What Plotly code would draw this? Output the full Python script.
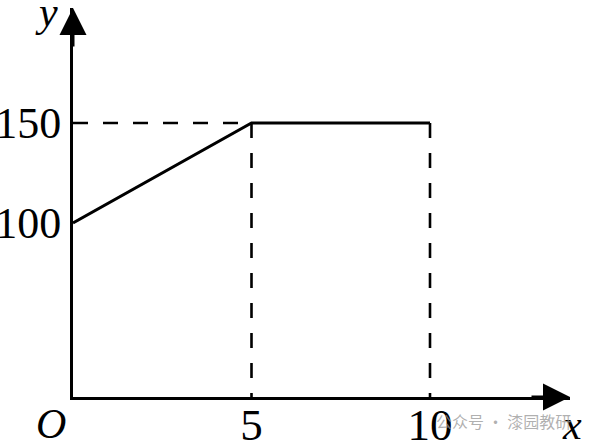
import plotly.graph_objects as go

# data
x_vals = [0, 5, 10]
y_vals = [100, 150, 150]
x_ticks = [5, 10]
x_ticklabels = ["5", "10"]
y_ticks = [100, 150]
y_ticklabels = ["100", "150"]

W, H = 591, 447
ml, mr, mt, mb = 73, 21, 8, 50
px_per_x = 35.7
px_per_y = 2.0
x_max = (W - ml - mr) / px_per_x
y_min = 100 - ((H - mb) - 223) / px_per_y
y_max = 100 + (223 - mt) / px_per_y

serif = "Liberation Serif, Times New Roman, serif"
lw = 2.6

fig = go.Figure()
# dashed guides
fig.add_trace(go.Scatter(x=[0, x_vals[1]], y=[y_vals[1], y_vals[1]], mode="lines",
                         line=dict(color="black", width=lw, dash="15px,15px"), hoverinfo="skip"))
fig.add_trace(go.Scatter(x=[x_vals[1], x_vals[1]], y=[y_vals[1], y_min], mode="lines",
                         line=dict(color="black", width=lw, dash="15px,15px"), hoverinfo="skip"))
fig.add_trace(go.Scatter(x=[x_vals[2], x_vals[2]], y=[y_vals[2], y_min], mode="lines",
                         line=dict(color="black", width=lw, dash="15px,15px"), hoverinfo="skip"))
# main polyline
fig.add_trace(go.Scatter(x=x_vals, y=y_vals, mode="lines",
                         line=dict(color="black", width=3), hoverinfo="skip"))

fig.update_layout(
    width=W, height=H,
    margin=dict(l=ml, r=mr, t=mt, b=mb, pad=0, autoexpand=False),
    paper_bgcolor="white", plot_bgcolor="white",
    showlegend=False,
    xaxis=dict(range=[0, x_max], showgrid=False, zeroline=False, showline=True,
               linecolor="black", linewidth=3, tickvals=x_ticks, ticktext=x_ticklabels,
               ticks="", ticklen=0, ticklabelstandoff=-14,
               tickfont=dict(family=serif, size=45, color="black"),
               automargin=False, fixedrange=True),
    yaxis=dict(range=[y_min, y_max], showgrid=False, zeroline=False, showline=True,
               linecolor="black", linewidth=3, tickvals=y_ticks, ticktext=y_ticklabels,
               ticks="", ticklen=0, ticklabelstandoff=0,
               tickfont=dict(family=serif, size=44, color="black"),
               automargin=False, fixedrange=True),
)

# arrowheads
fig.add_annotation(xref="paper", yref="paper", x=0, y=1, ax=0, ay=40, text="",
                   showarrow=True, arrowhead=2, arrowsize=1.8, arrowwidth=3, arrowcolor="black", standoff=0)
fig.add_annotation(xref="paper", yref="paper", x=1, y=0, ax=-40, ay=0, text="",
                   showarrow=True, arrowhead=2, arrowsize=1.8, arrowwidth=3, arrowcolor="black", standoff=0)

# axis letters
fig.add_annotation(xref="paper", yref="paper", x=0, y=1, xshift=-27, yshift=-4, text="<i>y</i>",
                   xanchor="center", yanchor="middle",
                   showarrow=False, font=dict(family=serif, size=42, color="black"))
fig.add_annotation(xref="paper", yref="paper", x=1, y=0, xshift=2, yshift=-28, text="<i>x</i>",
                   xanchor="center", yanchor="middle",
                   showarrow=False, font=dict(family=serif, size=42, color="black"))
fig.add_annotation(xref="paper", yref="paper", x=0, y=0, xshift=-22, yshift=-27, text="<i>O</i>",
                   xanchor="center", yanchor="middle",
                   showarrow=False, font=dict(family=serif, size=42, color="black"))

# watermark
fig.add_annotation(xref="paper", yref="paper", x=1, y=0, xshift=-67, yshift=-24,
                   xanchor="center", yanchor="middle",
                   text="公众号 · 漆园教研", showarrow=False,
                   font=dict(family="Noto Sans CJK SC", size=16, color="rgba(150,150,150,0.75)"))

fig.write_html("out.html", config={"displayModeBar": False},
               post_script="document.body.style.margin='0';")
